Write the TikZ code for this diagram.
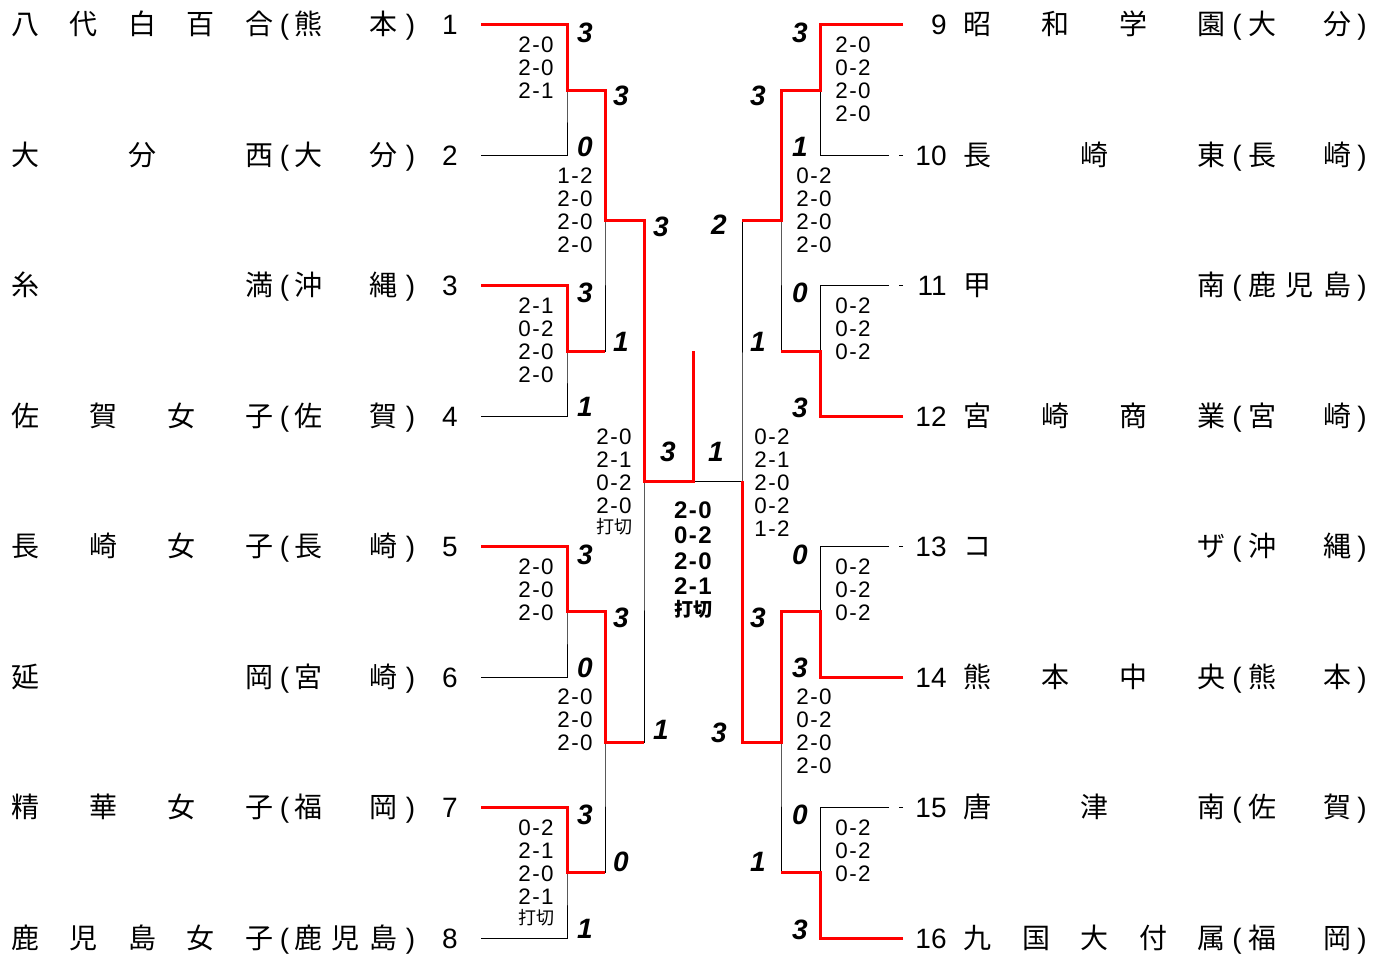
\documentclass[tikz,border=0pt]{standalone}
\usepackage{fontspec}
\setmainfont{Liberation Sans}
\newfontfamily\jp{Noto Sans CJK JP}
\newfontfamily\resfont{Liberation Sans}[LetterSpace=6]
\newcommand\uchi{{\jp\fontsize{9}{9}\selectfont 打切}}

\begin{document}
\begin{tikzpicture}[x=0.5pt,y=-0.5pt,
    base/.style={line width=0.5pt},
    gap/.style={dash pattern=on 2pt off 5pt on 200pt},
    win/.style={red,line width=1.5pt},
    res/.style={font=\resfont\fontsize{11.2}{11.5}\selectfont,align=center,inner sep=0pt,anchor=north},
    fin/.style={font=\resfont\bfseries\fontsize{12}{12.65}\selectfont,align=center,inner sep=0pt,anchor=north},
    pts/.style={font=\bfseries\itshape\fontsize{14}{14}\selectfont,inner sep=0pt},
    team/.style={font=\jp\fontsize{14}{14}\selectfont,inner sep=0pt,anchor=base west},
    num/.style={font=\fontsize{14}{14}\selectfont,inner sep=0pt,anchor=base}]
    \useasboundingbox (0,0) rectangle (1387,956);
    %Teams, left side
    \foreach \i/\sch/\pref in {1/{八\hfill 代\hfill 白\hfill 百\hfill 合}/{熊\hfill 本},
        2/{大\hfill 分\hfill 西}/{大\hfill 分}, 3/{糸\hfill 満}/{沖\hfill 縄},
        4/{佐\hfill 賀\hfill 女\hfill 子}/{佐\hfill 賀}, 5/{長\hfill 崎\hfill 女\hfill 子}/{長\hfill 崎},
        6/{延\hfill 岡}/{宮\hfill 崎}, 7/{精\hfill 華\hfill 女\hfill 子}/{福\hfill 岡},
        8/{鹿\hfill 児\hfill 島\hfill 女\hfill 子}/{鹿\hfill 児\hfill 島}} {
        \coordinate (L\i) at (481,{25+(\i-1)*130.43});
        \node[team] (sch\i) at (11,{35+(\i-1)*130.43}) {\makebox[131pt][s]{\sch}};
        \node[num] (po\i) at (284.5,{35+(\i-1)*130.43}) {(};
        \node[team] (pref\i) at (294,{35+(\i-1)*130.43}) {\makebox[51.5pt][s]{\pref}};
        \node[num] (pc\i) at (410.5,{35+(\i-1)*130.43}) {)};
        \node[num] (no\i) at (450,{35+(\i-1)*130.43}) {\i};
    }
    %Teams, right side
    \foreach \i/\sch/\pref in {9/{昭\hfill 和\hfill 学\hfill 園}/{大\hfill 分},
        10/{長\hfill 崎\hfill 東}/{長\hfill 崎}, 11/{甲\hfill 南}/{鹿\hfill 児\hfill 島},
        12/{宮\hfill 崎\hfill 商\hfill 業}/{宮\hfill 崎}, 13/{コ\hfill ザ}/{沖\hfill 縄},
        14/{熊\hfill 本\hfill 中\hfill 央}/{熊\hfill 本}, 15/{唐\hfill 津\hfill 南}/{佐\hfill 賀},
        16/{九\hfill 国\hfill 大\hfill 付\hfill 属}/{福\hfill 岡}} {
        \coordinate (R\i) at (903,{25+(\i-9)*130.43});
        \node[num,anchor=base east] (no\i) at (947,{35+(\i-9)*130.43}) {\i};
        \node[team] (sch\i) at (963.5,{35+(\i-9)*130.43}) {\makebox[131pt][s]{\sch}};
        \node[num] (po\i) at (1237,{35+(\i-9)*130.43}) {(};
        \node[team] (pref\i) at (1248,{35+(\i-9)*130.43}) {\makebox[51.5pt][s]{\pref}};
        \node[num] (pc\i) at (1362,{35+(\i-9)*130.43}) {)};
    }
    %Joints
    \coordinate (a12) at (567,90.21);
    \coordinate (a34) at (567,351.07);
    \coordinate (a56) at (567,611.93);
    \coordinate (a78) at (567,872.79);
    \coordinate (a14) at (605,220.64);
    \coordinate (a58) at (605,742.36);
    \coordinate (a18) at (644,481.5);
    \coordinate (cmid) at (693,481.5);
    \coordinate (ctop) at (693,351);
    \coordinate (b910) at (820,90.21);
    \coordinate (b1112) at (820,351.07);
    \coordinate (b1314) at (820,611.93);
    \coordinate (b1516) at (820,872.79);
    \coordinate (b912) at (781,220.64);
    \coordinate (b1316) at (781,742.36);
    \coordinate (b916) at (742,481.5);
    %Bracket
    \draw[base] (L1) -| (a12) |- (L2);
    \draw[base] (L3) -| (a34) |- (L4);
    \draw[base] (L5) -| (a56) |- (L6);
    \draw[base] (L7) -| (a78) |- (L8);
    \draw[base] (a12) -| (a14) |- (a34);
    \draw[base] (a56) -| (a58) |- (a78);
    \draw[base] (a14) -| (a18) |- (a58);
    \draw[base] (a18) -- (b916);
    \foreach \i in {9,...,16}
        \draw[base,gap] (R\i) -- (R\i -| b910);
    \draw[base] (R9 -| b910) -- (R10 -| b910);
    \draw[base] (R11 -| b910) -- (R12 -| b910);
    \draw[base] (R13 -| b910) -- (R14 -| b910);
    \draw[base] (R15 -| b910) -- (R16 -| b910);
    \draw[base] (b910) -| (b912) |- (b1112);
    \draw[base] (b1314) -| (b1316) |- (b1516);
    \draw[base] (b912) -| (b916) |- (b1316);
    %Winners
    \draw[win] (L1) -| (a12) -| (a14) -| (a18) -- (cmid) -- (ctop);
    \draw[win] (L3) -| (a34) -- (a34 -| a14);
    \draw[win] (L5) -| (a56) -| (a58) -- (a58 -| a18);
    \draw[win] (L7) -| (a78) -- (a78 -| a58);
    \draw[win] (R9) -| (b910) -| (b912) -- (b912 -| b916);
    \draw[win] (R12) -| (b1112) -- (b1112 -| b912);
    \draw[win] (R14) -| (b1314) -| (b1316) -| (b916);
    \draw[win] (R16) -| (b1516) -- (b1516 -| b1316);
    %Points
    \foreach \x/\y/\v [count=\k] in {585/33/3, 585/147/0, 585/293/3, 585/407/1,
        585/555/3, 585/668/0, 585/815/3, 585/929/1, 621/96/3, 621/342/1,
        621/618/3, 621/862/0, 661/227/3, 661/730/1, 668/452/3, 716/452/1,
        719/225/2, 719/733/3, 758/96/3, 758/342/1, 758/618/3, 758/862/1,
        800/33/3, 800/147/1, 800/293/0, 800/408/3, 800/555/0, 800/668/3,
        800/815/0, 800/930/3}
        \node[pts] (pt\k) at (\x,\y) {\v};
    %Games
    \node[res] (g12) at (536,36) {2-0\\2-0\\2-1};
    \node[res] (g34) at (536,297) {2-1\\0-2\\2-0\\2-0};
    \node[res] (g56) at (536,558) {2-0\\2-0\\2-0};
    \node[res] (g78) at (536,819) {0-2\\2-1\\2-0\\2-1\\[-1.5pt]\uchi};
    \node[res] (g14) at (575,167) {1-2\\2-0\\2-0\\2-0};
    \node[res] (g58) at (575,688) {2-0\\2-0\\2-0};
    \node[res] (g18) at (614,428) {2-0\\2-1\\0-2\\2-0\\[-1.5pt]\uchi};
    \node[fin] (gfin) at (693,501.5) {2-0\\0-2\\2-0\\2-1\\[-1.9pt]{\jp\fontsize{9.5}{9.5}\selectfont 打切}};
    \node[res] (g916) at (772,428) {0-2\\2-1\\2-0\\0-2\\1-2};
    \node[res] (g912) at (814,167) {0-2\\2-0\\2-0\\2-0};
    \node[res] (g1316) at (814,688) {2-0\\0-2\\2-0\\2-0};
    \node[res] (g910) at (853,36) {2-0\\0-2\\2-0\\2-0};
    \node[res] (g1112) at (853,297) {0-2\\0-2\\0-2};
    \node[res] (g1314) at (853,558) {0-2\\0-2\\0-2};
    \node[res] (g1516) at (853,819) {0-2\\0-2\\0-2};
\end{tikzpicture}
\end{document}
